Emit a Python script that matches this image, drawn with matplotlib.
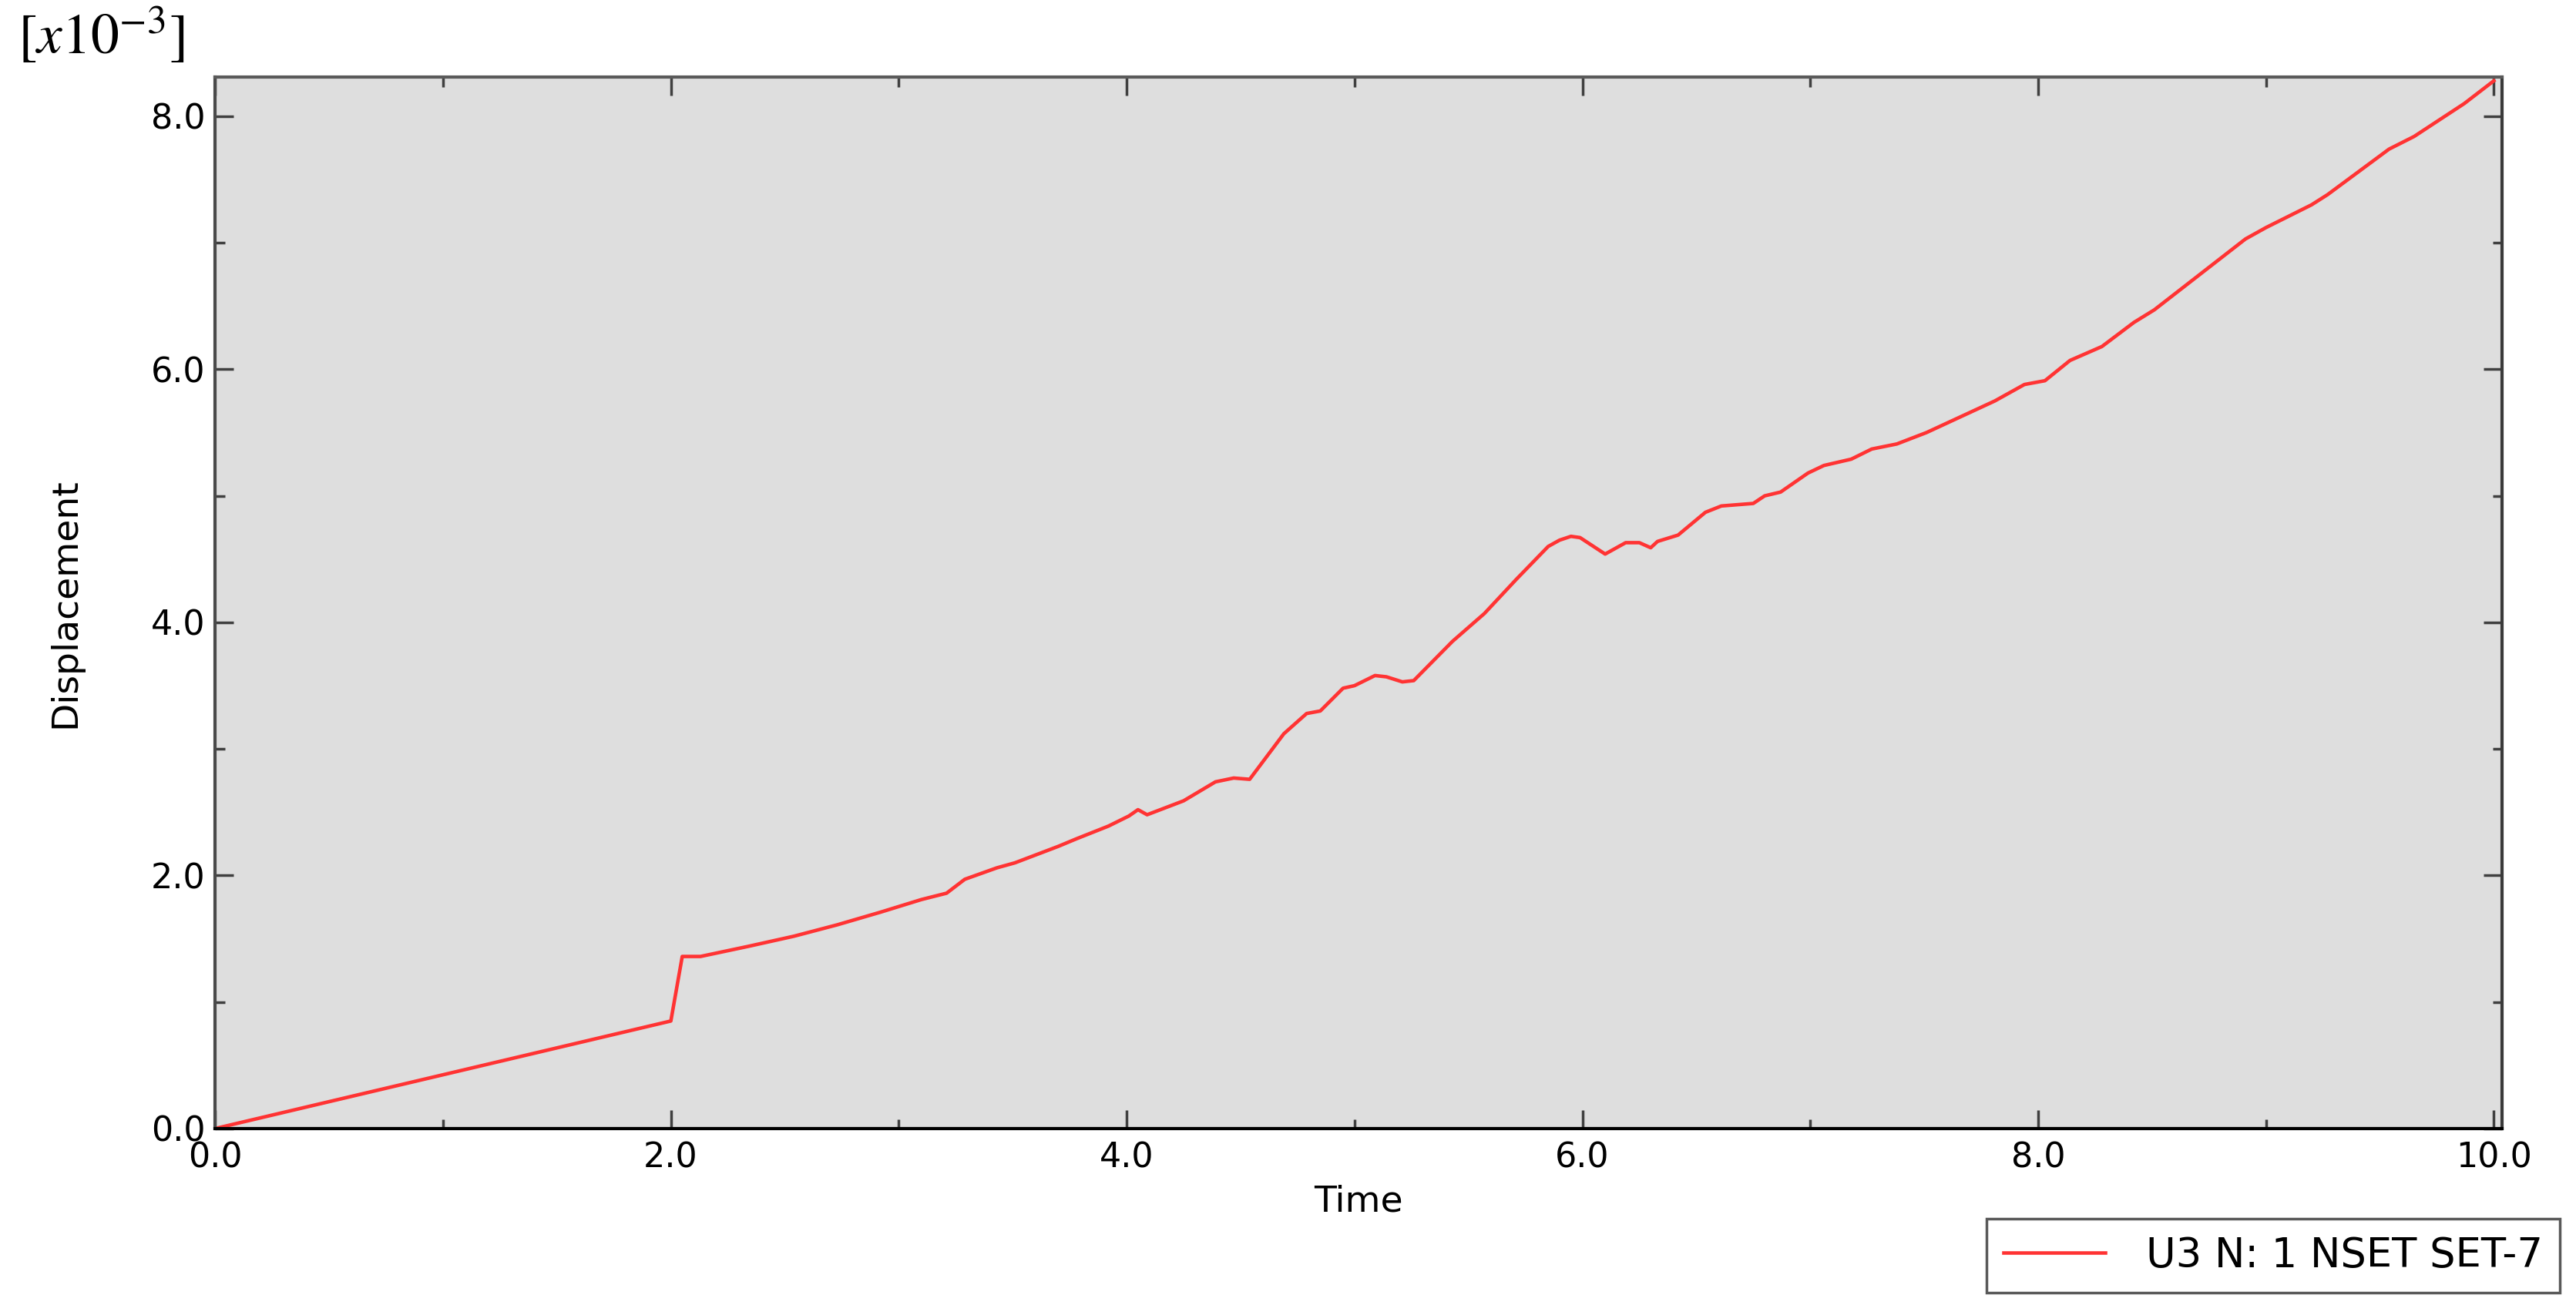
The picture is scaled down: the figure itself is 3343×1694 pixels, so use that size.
import numpy as np
import matplotlib
matplotlib.use("Agg")
import matplotlib.pyplot as plt

# displacement (x1e-3) vs time
time = [0.0, 2.0, 2.05, 2.13, 2.34, 2.54, 2.73, 2.92, 3.10, 3.21, 3.29, 3.43, 3.51,
        3.70, 3.78, 3.92, 4.01, 4.05, 4.09, 4.25, 4.39, 4.47, 4.54, 4.69, 4.79,
        4.85, 4.95, 5.00, 5.09, 5.14, 5.21, 5.26, 5.43, 5.57, 5.71, 5.85, 5.90,
        5.95, 5.99, 6.10, 6.19, 6.25, 6.30, 6.33, 6.42, 6.54, 6.61, 6.75, 6.80,
        6.87, 6.99, 7.06, 7.18, 7.27, 7.38, 7.51, 7.63, 7.81, 7.94, 8.03, 8.14,
        8.28, 8.42, 8.51, 8.71, 8.91, 9.00, 9.20, 9.27, 9.54, 9.65, 9.87, 10.0]
disp = [0.0, 0.85, 1.36, 1.36, 1.44, 1.52, 1.61, 1.71, 1.81, 1.86, 1.97, 2.06, 2.10,
        2.23, 2.29, 2.39, 2.47, 2.52, 2.48, 2.59, 2.74, 2.77, 2.76, 3.12, 3.28,
        3.30, 3.48, 3.50, 3.58, 3.57, 3.53, 3.54, 3.85, 4.07, 4.34, 4.60, 4.65,
        4.68, 4.67, 4.54, 4.63, 4.63, 4.59, 4.64, 4.69, 4.87, 4.92, 4.94, 5.00,
        5.03, 5.18, 5.24, 5.29, 5.37, 5.41, 5.50, 5.60, 5.75, 5.88, 5.91, 6.07,
        6.18, 6.37, 6.47, 6.75, 7.03, 7.12, 7.30, 7.38, 7.74, 7.84, 8.10, 8.28]
series_label = "U3 N: 1 NSET SET-7"
xticks = [0.0, 2.0, 4.0, 6.0, 8.0, 10.0]
yticks = [0.0, 2.0, 4.0, 6.0, 8.0]

plt.rcParams['font.family'] = ['DejaVu Sans']
plt.rcParams['mathtext.fontset'] = 'stix'

fig = plt.figure(figsize=(33.43, 16.94), dpi=100)
ax = fig.add_axes([0.0835, 0.1352, 0.9713 - 0.0835, 0.941 - 0.1352])
ax.set_facecolor('#dedede')

ax.plot(time, disp, color='#ff3333', lw=3.3, label=series_label)

ax.set_xlim(0, 10.036)
ax.set_ylim(0, 8.31)
ax.set_xticks(xticks)
ax.set_yticks(yticks)
ax.set_xticks(np.arange(1.0, 10.0, 2.0), minor=True)
ax.set_yticks(np.arange(1.0, 8.5, 2.0), minor=True)
ax.set_xticklabels(["%.1f" % v for v in xticks])
ax.set_yticklabels(["%.1f" % v for v in yticks])

ax.tick_params(which='both', direction='in', top=True, right=True,
               color='#404040', width=2.5)
ax.tick_params(which='major', length=17, labelsize=32)
ax.tick_params(which='minor', length=9)
ax.tick_params(axis='x', which='major', pad=12)
ax.tick_params(axis='y', which='major', pad=9)

for side, col in [('bottom', '#000000'), ('left', '#4a4a4a'),
                  ('top', '#5a5a5a'), ('right', '#3a3a3a')]:
    ax.spines[side].set_color(col)
    ax.spines[side].set_linewidth(3)

ax.set_xlabel("Time", fontsize=34)
ax.set_ylabel("Displacement", fontsize=34)
ax.xaxis.set_label_coords(0.5, -0.053)
ax.yaxis.set_label_coords(-0.058, 0.5)

fig.text(0.007, 0.995, r'$[x10^{-3}]$', fontsize=53, ha='left', va='top')

leg = fig.legend(loc='lower right', bbox_to_anchor=(0.9937, 0.0094),
                 borderaxespad=0, fontsize=38, fancybox=False,
                 handlelength=2.5, handletextpad=1.0, borderpad=0.42)
leg.get_frame().set_edgecolor('#303030')
leg.get_frame().set_linewidth(2.5)

fig.savefig("out.png", dpi=100)
